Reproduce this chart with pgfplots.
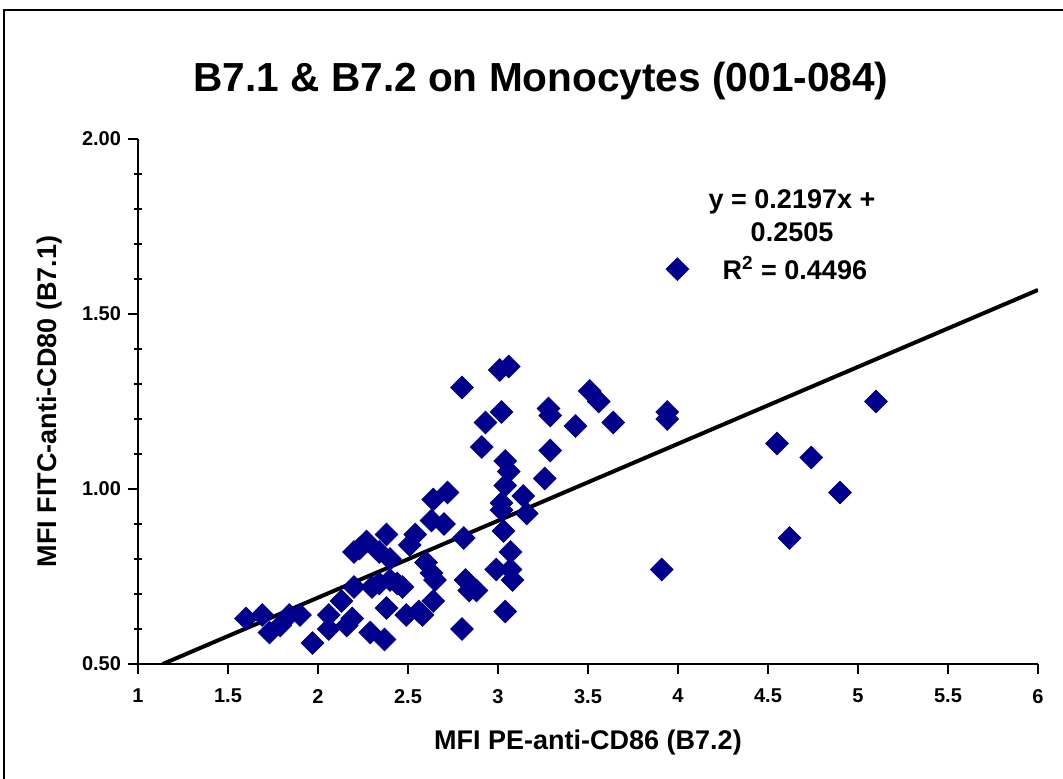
\documentclass[border=0pt]{standalone}
\usepackage{fontspec}
\setmainfont{Liberation Sans}
\usepackage{pgfplots}
\pgfplotsset{compat=1.18}
\definecolor{markblue}{RGB}{0,0,140}
\begin{document}
\begin{tikzpicture}
\begin{axis}[
  scale only axis,
  width=450pt, height=262.5pt,
  xmin=1, xmax=6, ymin=0.5, ymax=2,
  axis lines=left,
  axis line style={-, line width=1.3pt},
  xtick={1,1.5,...,6},
  ytick={0.5,1,1.5,2},
  minor ytick={0.6,0.7,0.8,0.9,1.1,1.2,1.3,1.4,1.6,1.7,1.8,1.9},
  tick align=outside,
  major tick length=5pt,
  minor tick length=4pt,
  every tick/.style={black, line width=1pt},
  minor y tick style={xshift=2pt},
  /pgf/number format/assume math mode=true,
  tick label style={font=\bfseries\fontsize{10}{12}\selectfont},
  yticklabel style={/pgf/number format/fixed, /pgf/number format/fixed zerofill, /pgf/number format/precision=2},
  xticklabel style={/pgf/number format/fixed, yshift=-4pt},
  xlabel={MFI PE-anti-CD86 (B7.2)},
  ylabel={MFI FITC-anti-CD80 (B7.1)},
  every axis x label/.style={at={(axis description cs:0.5,0)}, anchor=base, yshift=-42.75pt, font=\bfseries\fontsize{13.5}{16}\selectfont},
  every axis y label/.style={at={(axis description cs:0,0.5)}, anchor=base, rotate=90, yshift=40.75pt, font=\bfseries\fontsize{13.5}{16}\selectfont},
  title={B7.1 \& B7.2 on Monocytes (001-084)},
  title style={at={(axis description cs:0.4478,1)}, anchor=base, yshift=18pt, font=\bfseries\fontsize{20.3}{24}\selectfont},
  legend image code/.code={\draw[#1] plot coordinates {(0pt,0pt)};},
  legend style={draw=none, fill=none, at={(rel axis cs:0.5863,0.752)}, anchor=west, inner sep=0pt, nodes={inner sep=0pt}, column sep=17pt, font=\bfseries\fontsize{13.5}{16}\selectfont},
]
\addplot[only marks, mark=square*, mark size=4pt, mark options={rotate=45, fill=markblue, draw=markblue}] table {
x y
1.60 0.63
1.69 0.64
1.73 0.59
1.79 0.61
1.84 0.64
1.90 0.64
1.97 0.56
2.06 0.60
2.06 0.64
2.13 0.68
2.16 0.61
2.19 0.63
2.20 0.72
2.20 0.82
2.23 0.83
2.27 0.85
2.29 0.59
2.30 0.72
2.34 0.73
2.34 0.82
2.37 0.57
2.38 0.87
2.38 0.66
2.40 0.80
2.40 0.74
2.44 0.73
2.47 0.72
2.49 0.64
2.51 0.84
2.54 0.87
2.56 0.65
2.58 0.64
2.60 0.79
2.63 0.76
2.63 0.91
2.64 0.97
2.64 0.68
2.65 0.74
2.70 0.90
2.72 0.99
2.80 1.29
2.80 0.60
2.81 0.86
2.82 0.74
2.84 0.71
2.88 0.71
2.91 1.12
2.93 1.19
2.99 0.77
3.01 1.34
3.02 1.22
3.02 0.96
3.02 0.94
3.03 0.88
3.04 1.01
3.04 1.08
3.04 0.65
3.06 1.35
3.06 1.05
3.07 0.82
3.07 0.77
3.08 0.74
3.14 0.98
3.16 0.93
3.26 1.03
3.28 1.23
3.29 1.21
3.29 1.11
3.43 1.18
3.51 1.28
3.56 1.25
3.64 1.19
3.91 0.77
3.94 1.22
3.94 1.20
4.55 1.13
4.62 0.86
4.74 1.09
4.90 0.99
5.10 1.25
};
\addlegendentry{R\textsuperscript{2} = 0.4496}
\addplot[black, line width=2pt, forget plot] coordinates {(1.1372,0.5) (6,1.5687)};
\node[font=\bfseries\fontsize{13.5}{16}\selectfont, align=center] at (rel axis cs:0.7267,0.88) {y = 0.2197x +};
\node[font=\bfseries\fontsize{13.5}{16}\selectfont, align=center] at (rel axis cs:0.7267,0.823) {0.2505};
\end{axis}
\path[use as bounding box] (-69pt,-57pt) rectangle (462.5pt,332pt);
\draw[line width=1pt] (-67pt,-60pt) -- (-67pt,327pt) -- (465pt,327pt);
\end{tikzpicture}
\end{document}
